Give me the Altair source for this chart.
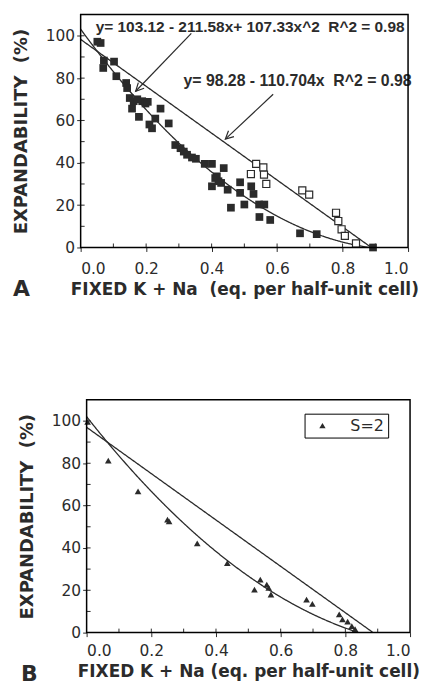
import altair as alt
import pandas as pd

# ---------------- Panel A data ----------------
a_filled_x = [0.051, 0.061, 0.071, 0.069, 0.102, 0.109, 0.139, 0.142, 0.150, 0.157,
              0.162, 0.178, 0.173, 0.188, 0.198, 0.205, 0.210, 0.218, 0.228, 0.244,
              0.269, 0.289, 0.305, 0.315, 0.325, 0.340, 0.352, 0.379, 0.401, 0.401,
              0.411, 0.421, 0.416, 0.437, 0.429, 0.449, 0.459, 0.487, 0.487, 0.500,
              0.521, 0.528, 0.545, 0.561, 0.546, 0.579, 0.670, 0.721, 0.893]
a_filled_y = [97.2, 96.6, 88.3, 84.8, 87.8, 80.9, 77.7, 75.3, 70.6, 65.6,
              69.1, 61.7, 70.0, 69.1, 68.0, 68.8, 58.1, 56.3, 60.9, 65.6,
              58.6, 48.4, 46.9, 45.3, 43.8, 42.5, 41.9, 39.5, 39.5, 28.9,
              32.8, 31.3, 33.6, 37.5, 30.5, 27.3, 18.8, 30.8, 25.8, 20.3,
              28.9, 25.3, 20.3, 20.3, 14.4, 13.0, 6.7, 6.3, 0.0]
a_open_x = [0.536, 0.520, 0.558, 0.560, 0.567, 0.677, 0.698, 0.780, 0.787, 0.797, 0.807, 0.841]
a_open_y = [39.5, 34.7, 37.8, 34.4, 30.0, 27.0, 25.0, 16.4, 12.5, 8.6, 5.5, 1.9]

a_quad_coefs = [103.12, -211.58, 107.33]
a_lin_coefs = [98.28, -110.704]

NB = "\u00a0"
a_eq1_text = ["y= 103.12 - 211.58x+ 107.33x^2" + NB + NB + "R^2 = 0.98"]
a_eq1_x = [0.046]
a_eq1_y = [104.0]
a_eq2_text = ["y= 98.28 - 110.704x" + NB + NB + "R^2 = 0.98"]
a_eq2_x = [0.314]
a_eq2_y = [78.5]

arrow_x = [0.338, 0.588]
arrow_y = [101.1, 72.4]
arrow_x2 = [0.168, 0.442]
arrow_y2 = [73.8, 51.2]
arrow_angle = [224, 227]

# ---------------- Panel B data ----------------
b_tri_x = [0.003, 0.067, 0.159, 0.250, 0.255, 0.342, 0.435, 0.537, 0.519, 0.557,
           0.563, 0.570, 0.680, 0.698, 0.781, 0.791, 0.807, 0.820, 0.830]
b_tri_y = [99.5, 81.2, 66.7, 53.4, 52.5, 42.2, 32.8, 25.0, 20.3, 22.7,
           21.1, 18.0, 15.6, 13.6, 8.6, 6.3, 5.2, 3.1, 1.6]
b_quad_coefs = [102.0, -193.6, 86.0]
b_lin_coefs = [97.0, -109.5]

# ---------------- axes ----------------
x_major = [0.0, 0.2, 0.4, 0.6, 0.8, 1.0]
x_minor = [0.1, 0.2, 0.3, 0.4, 0.5, 0.6, 0.7, 0.8, 0.9]
y_major = [0, 20, 40, 60, 80, 100]
y_minor = [10, 20, 30, 40, 50, 60, 70, 80, 90, 100]

INK = "#2b2b2b"
H = 234


def make_panel(xtitle, label, layers_fn, label_pad, shift, plot_w, lab_x):
    # shift: horizontal offset (px) of this panel's frame inside its view
    W = plot_w + shift
    xscale = alt.Scale(domain=[0, 1], range=[shift, W], nice=False, zero=False)
    yscale = alt.Scale(domain=[0, 110], nice=False)
    xaxis = alt.Axis(values=x_major, format=".1f", title=xtitle, labelPadding=label_pad,
                     titlePadding=5, domain=False)
    yaxis = alt.Axis(values=y_major, title="EXPANDABILITY" + NB + NB + "(%)",
                     titlePadding=15, labelPadding=2, offset=-shift, domain=False)

    def X(f, **kw):
        return alt.X(f, type="quantitative", scale=xscale, axis=xaxis, **kw)

    def Y(f, **kw):
        return alt.Y(f, type="quantitative", scale=yscale, axis=yaxis, **kw)

    def curve(coefs):
        expr = " + ".join(f"({c})*pow(datum.x,{i})" for i, c in enumerate(coefs))
        return (alt.Chart(alt.sequence(0, 0.95, 0.002, as_="x"))
                .transform_calculate(y=expr)
                .transform_filter("datum.y >= 0")
                .mark_line(color=INK, strokeWidth=1.3)
                .encode(x=X("x"), y=Y("y")))

    one = pd.DataFrame({"t": [label]})
    frame = (alt.Chart(one)
             .mark_rect(filled=False, stroke="black", strokeWidth=1.5)
             .encode(x=alt.value(shift), x2=alt.value(W), y=alt.value(0), y2=alt.value(H)))
    xt = (alt.Chart(pd.DataFrame({"t": x_minor}))
          .mark_rule(color=INK, strokeWidth=1)
          .encode(x=X("t"), y=alt.value(H), y2=alt.value(H - 4)))
    yt = (alt.Chart(pd.DataFrame({"t": y_minor}))
          .mark_rule(color=INK, strokeWidth=1)
          .encode(y=Y("t"), x=alt.value(shift), x2=alt.value(shift + 4)))
    lab = (alt.Chart(one)
           .mark_text(font="DejaVu Sans", fontWeight="bold", fontSize=22, align="left",
                      baseline="alphabetic", color=INK)
           .encode(text="t:N", x=alt.value(lab_x), y=alt.value(283)))

    layers = [xt, yt] + layers_fn(X, Y, curve, shift) + [frame, lab]
    return (alt.layer(*layers)
            .properties(width=W, height=H, view=alt.ViewBackground(strokeOpacity=0)))


def eq_layer(X, Y, xs, ys, texts, size):
    df = pd.DataFrame({"x": xs, "y": ys, "t": texts})
    return alt.Chart(df).mark_text(font="Liberation Sans", fontWeight="bold",
                                   fontSize=size, align="left", baseline="middle",
                                   color=INK).encode(x=X("x"), y=Y("y"), text="t:N")


def layers_a(X, Y, curve, shift):
    filled = pd.DataFrame({"x": a_filled_x, "y": a_filled_y})
    opened = pd.DataFrame({"x": a_open_x, "y": a_open_y})
    arr = pd.DataFrame({"x": arrow_x, "y": arrow_y, "x2": arrow_x2, "y2": arrow_y2,
                        "a": arrow_angle})
    return [
        curve(a_quad_coefs),
        curve(a_lin_coefs),
        alt.Chart(arr).mark_rule(color=INK, strokeWidth=1.2).encode(
            x=X("x"), y=Y("y"), x2="x2:Q", y2="y2:Q"),
        alt.Chart(arr).mark_point(shape="M -0.5 1 L 0 0 L 0.5 1", filled=False,
                                  color=INK, strokeWidth=1.2, size=260, opacity=1).encode(
            x=X("x2"), y=Y("y2"), angle=alt.Angle("a:Q", scale=None)),
        alt.Chart(filled).mark_point(shape="square", filled=True, color=INK, size=60,
                                     opacity=1).encode(x=X("x"), y=Y("y")),
        alt.Chart(opened).mark_point(shape="square", filled=False, fill="white",
                                     color=INK, strokeWidth=1.2, size=50,
                                     opacity=1).encode(x=X("x"), y=Y("y")),
        eq_layer(X, Y, a_eq1_x, a_eq1_y, a_eq1_text, 15.5),
        eq_layer(X, Y, a_eq2_x, a_eq2_y, a_eq2_text, 15.9),
    ]


def layers_b(X, Y, curve, shift):
    tri = pd.DataFrame({"x": b_tri_x, "y": b_tri_y, "s": ["S=2"] * len(b_tri_x)})
    return [
        curve(b_quad_coefs),
        curve(b_lin_coefs),
        alt.Chart(tri).mark_point(filled=True, size=45, opacity=1).encode(
            x=X("x"), y=Y("y"),
            shape=alt.Shape("s:N", scale=alt.Scale(range=["triangle-up"]),
                            legend=alt.Legend(title=None, orient="none",
                                              legendX=219 + shift, legendY=14,
                                              strokeColor="black",
                                              padding=4, symbolOffset=6,
                                              labelOffset=20, labelFontSize=16,
                                              labelFont="DejaVu Sans", labelColor=INK,
                                              symbolFillColor=INK, symbolStrokeColor=INK,
                                              symbolSize=40)),
            color=alt.value(INK)),
    ]


panel_a = make_panel("FIXED K + Na" + NB + NB + "(eq. per half-unit cell)", "A",
                     layers_a, 10, 0, 329, -68)
panel_b = make_panel("FIXED K + Na (eq. per half-unit cell)", "B",
                     layers_b, 7, 6, 325, -60)

chart = (alt.vconcat(panel_a, panel_b, spacing=99)
         .resolve_legend(shape="independent")
         .properties(padding={"left": 4, "top": 4, "right": 0, "bottom": 0},
                     background="white")
         .configure_axis(grid=False, tickColor=INK, tickSize=4,
                         labelFont="DejaVu Sans", labelFontSize=15.5, labelColor=INK,
                         titleFont="DejaVu Sans", titleFontWeight="bold", titleColor=INK)
         .configure_axisX(titleFontSize=17)
         .configure_axisY(titleFontSize=18))

chart.save("out.html", embed_options={"renderer": "svg", "actions": False})
